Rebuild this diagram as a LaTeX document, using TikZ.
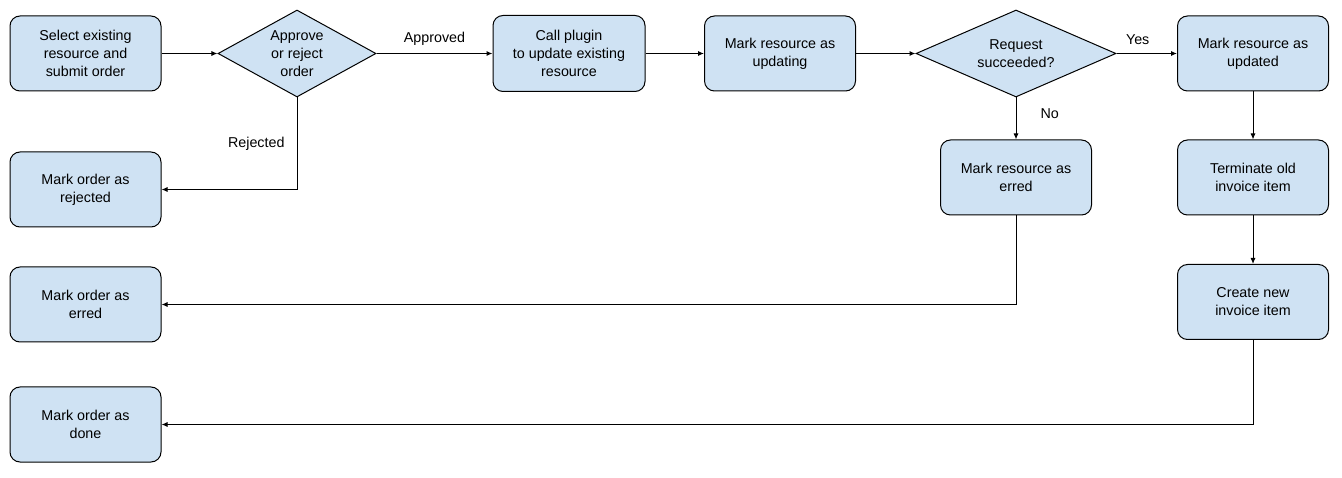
\documentclass[tikz,border=0pt]{standalone}
\usepackage{fontspec}
\setmainfont{Liberation Sans}
\usetikzlibrary{
  arrows.meta,
  positioning,
  shapes.geometric
}
\definecolor{stepblue}{HTML}{CFE2F3}
\tikzset{
  >={Latex[length=6pt,width=5pt]},
  line cap=round,
  line join=round,
  every picture/.style={line width=1pt, x=1pt, y=-1pt},
  every node/.style={font=\fontsize{14.3}{18}\selectfont},
  box/.style={draw, fill=stepblue, rounded corners=10pt, minimum width=151pt, minimum height=75pt, align=center, inner sep=0pt},
  decision/.style={draw, fill=stepblue, diamond, align=center, inner sep=0pt, minimum height=87pt},
  arrow/.style={->},
  edgelabel/.style={inner sep=0pt}
}
\begin{document}
\begin{tikzpicture}
  \useasboundingbox (0,0) rectangle (1342,478);

  \node[box] (select) at (85.5,53.5) {Select existing\\resource and\\submit order};
  \node[decision, aspect=1.8, minimum width=158pt] (approve) at (297,53.5) {Approve\\or reject\\order};
  \node[box, minimum width=152pt, minimum height=76pt] (plugin) at (569,53.5) {Call plugin\\to update existing\\resource};
  \node[box] (updating) at (780,53.5) {Mark resource as\\updating};
  \node[decision, aspect=2.3, minimum width=200pt] (request) at (1016,53.5) {Request\\succeeded?};
  \node[box] (updated) at (1253,53.5) {Mark resource as\\updated};

  \node[box] (reserred) at (1016,177.5) {Mark resource as\\erred};
  \node[box] (terminate) at (1253,177.5) {Terminate old\\invoice item};
  \node[box] (create) at (1253,302) {Create new\\invoice item};

  \node[box] (rejected) at (85.5,189.5) {Mark order as\\rejected};
  \node[box] (ordererred) at (85.5,304.5) {Mark order as\\erred};
  \node[box] (done) at (85.5,424.5) {Mark order as\\done};

  \draw[arrow] (select) -- (approve);
  \draw[arrow] (approve) -- node[edgelabel, above=8pt] {Approved} (plugin);
  \draw[arrow] (plugin) -- (updating);
  \draw[arrow] (updating) -- (request);
  \draw[arrow] (request) -- node[edgelabel, pos=0.35, above=8pt] {Yes} (updated);
  \draw[arrow] (request) -- node[edgelabel, pos=0.38, right=24pt] {No} (reserred);
  \draw[arrow] (updated) -- (terminate);
  \draw[arrow] (terminate) -- (create);

  \draw[arrow] (approve.south) |- node[edgelabel, pos=0.25, left=12pt] {Rejected} (rejected);
  \draw[arrow] (reserred) |- (ordererred);
  \draw[arrow] (create) |- (done);
\end{tikzpicture}
\end{document}
